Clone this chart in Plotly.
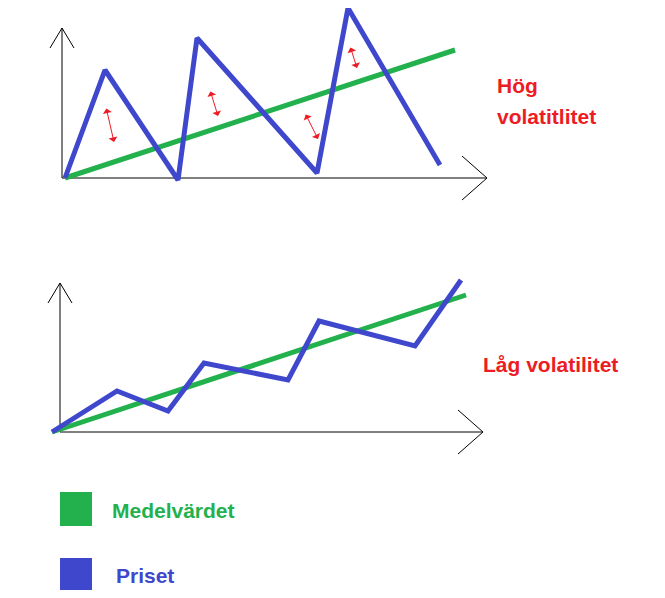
import plotly.graph_objects as go

# Top panel (high volatility), values in picture coordinates
top_price_x = [65, 105, 178, 197, 317, 348, 440]
top_price_y = [178, 70, 180, 38, 173, 8, 165]
top_mean_x = [65, 455]
top_mean_y = [178, 50]
# Bottom panel (low volatility)
bot_price_x = [52, 117, 168, 204, 288, 319, 415, 461]
bot_price_y = [432, 391, 411, 363, 380, 321, 346, 280]
bot_mean_x = [52, 466]
bot_mean_y = [432, 295]
# red double arrows (x0, y0, x1, y1)
red_arrows = [(106, 107, 114, 142), (210, 90, 218, 116), (305, 113, 318, 139), (350, 46, 357, 68)]

BLUE = "#3f48cc"
GREEN = "#22b14c"
RED = "#ed1c24"

fig = go.Figure()

def axes(ox, oy, top, right):
    fig.add_trace(go.Scatter(x=[ox, ox], y=[oy, top], mode="lines", line=dict(color="black", width=1), hoverinfo="skip"))
    fig.add_trace(go.Scatter(x=[ox - 12, ox, ox + 12], y=[top + 20, top, top + 20], mode="lines", line=dict(color="black", width=1), hoverinfo="skip"))
    fig.add_trace(go.Scatter(x=[ox, right], y=[oy, oy], mode="lines", line=dict(color="black", width=1), hoverinfo="skip"))
    fig.add_trace(go.Scatter(x=[right - 25, right, right - 25], y=[oy - 22, oy, oy + 22], mode="lines", line=dict(color="black", width=1), hoverinfo="skip"))

axes(62, 178, 28, 487)
axes(60, 432, 283, 483)

fig.add_trace(go.Scatter(x=top_mean_x, y=top_mean_y, mode="lines", line=dict(color=GREEN, width=5)))
fig.add_trace(go.Scatter(x=top_price_x, y=top_price_y, mode="lines", line=dict(color=BLUE, width=5)))
fig.add_trace(go.Scatter(x=bot_mean_x, y=bot_mean_y, mode="lines", line=dict(color=GREEN, width=5)))
fig.add_trace(go.Scatter(x=bot_price_x, y=bot_price_y, mode="lines", line=dict(color=BLUE, width=5)))

for x0, y0, x1, y1 in red_arrows:
    fig.add_annotation(x=x1, y=y1, ax=x0, ay=y0, xref="x", yref="y", axref="x", ayref="y",
                       showarrow=True, arrowhead=1, startarrowhead=1, arrowside="end+start",
                       arrowcolor=RED, arrowwidth=1, arrowsize=1.5, startarrowsize=1.5, text="")

fig.add_shape(type="rect", x0=60, y0=492, x1=92, y1=526, fillcolor=GREEN, line=dict(width=0))
fig.add_shape(type="rect", x0=60, y0=558, x1=92, y1=590, fillcolor=BLUE, line=dict(width=0))

font = dict(family="Liberation Sans", size=21)
def txt(x, y, s, c):
    fig.add_annotation(x=x, y=y, text="<b>%s</b>" % s, showarrow=False, xanchor="left",
                       font=dict(font, color=c))
txt(495, 85, "Hög", RED)
txt(495, 116, "volatitlitet", RED)
txt(481, 364, "Låg volatilitet", RED)
txt(110, 510, "Medelvärdet", GREEN)
txt(114, 575, "Priset", BLUE)

fig.update_layout(width=665, height=598, margin=dict(l=0, r=0, t=0, b=0),
                  paper_bgcolor="white", plot_bgcolor="white", showlegend=False,
                  xaxis=dict(range=[8, 673], visible=False, fixedrange=True),
                  yaxis=dict(range=[606, 8], visible=False, fixedrange=True))
fig.write_html("out.html")
